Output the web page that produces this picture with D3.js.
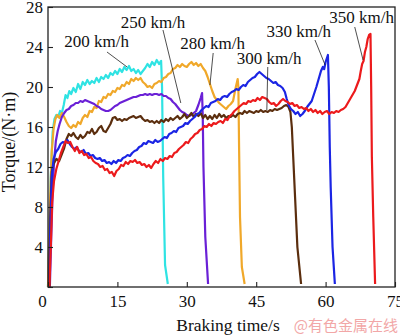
<!DOCTYPE html>
<html><head><meta charset="utf-8">
<script src="https://cdn.jsdelivr.net/npm/d3@7/dist/d3.min.js"></script>
<style>html,body{margin:0;padding:0;background:#fff;}svg{display:block;}</style>
</head><body>
<script>
// Braking torque vs. braking time for seven initial speeds; each point is [time s, torque N·m]
const speeds = ["200 km/h", "250 km/h", "280 km/h", "300 km/h", "330 km/h", "350 km/h"];
const colors = ["#2fe3e3", "#f0a82a", "#6a20d6", "#5b2e0e", "#1b25e4", "#ec1a1c"];

const s200 = [[0,0],[0.3,5],[0.6,11],[1.0,15.5],[1.4,16.8],[1.8,17.2],[2.2,17.0],[2.6,17.6],[3.0,17.4],[3.4,18.2],[3.8,19.2],[4.2,18.9],[4.6,19.6],[5.0,19.3],[5.5,19.9],[6.0,19.5],[6.5,20.3],[7.0,19.8],[7.5,20.5],[8.0,20.2],[8.5,20.7],[9.0,20.3],[9.5,20.6],[10,20.4],[10.5,20.9],[11,20.5],[11.5,21.0],[12,20.8],[12.5,21.2],[13,20.9],[13.5,21.4],[14,21.2],[14.5,21.6],[15,21.3],[15.5,21.8],[16,21.5],[16.5,22.0],[17,21.7],[17.5,22.1],[18,21.6],[18.5,21.8],[19,21.4],[19.5,21.7],[20,21.3],[20.5,21.6],[21,21.9],[21.5,22.3],[22,22.0],[22.5,22.5],[23,22.2],[23.5,22.7],[24,22.3],[24.45,22.6],[24.65,20],[24.9,11],[25.3,2.2],[25.9,0.3]];

const s250 = [[0,0],[0.4,8],[0.8,13.5],[1.2,15.8],[1.6,16.8],[2.0,17.2],[2.5,16.9],[3.0,17.4],[3.5,17.0],[4.0,16.5],[4.5,16.1],[5.0,15.9],[5.5,16.2],[6.0,16.0],[6.5,16.5],[7.0,16.3],[7.5,16.9],[8.0,17.2],[8.5,17.0],[9.0,17.6],[9.5,17.5],[10,18.0],[10.5,17.9],[11,18.6],[11.5,18.5],[12,19.0],[12.5,18.9],[13,19.3],[13.5,19.2],[14,19.6],[14.5,19.5],[15,19.9],[15.5,19.8],[16,20.2],[16.5,20.1],[17,20.5],[17.5,20.3],[18,20.8],[18.5,20.6],[19,20.9],[19.5,20.7],[20,20.9],[20.5,20.5],[21,20.3],[21.5,20.0],[22,20.1],[22.5,19.9],[23,20.3],[23.5,20.4],[24,20.6],[24.5,20.5],[25,20.9],[25.5,21.0],[26,21.3],[26.5,21.4],[27,21.8],[27.5,21.9],[28,22.2],[28.5,22.0],[29,22.3],[29.5,22.1],[30,22.0],[30.5,22.3],[31,22.5],[31.5,22.2],[32,22.4],[32.5,22.1],[33,22.3],[33.5,21.9],[34,21.6],[34.5,21.0],[35,20.3],[35.5,19.6],[36,19.0],[36.5,18.7],[37,18.4],[37.5,18.2],[38,18.0],[38.5,17.8],[39,18.1],[39.5,18.3],[40,18.6],[40.5,19.8],[41,20.8],[41.15,20],[41.3,14],[41.5,7],[41.9,2],[42.5,0.3]];

const s280 = [[0.4,0],[0.7,5],[1.0,9.5],[1.3,12.5],[1.7,14.6],[2.1,15.6],[2.5,16.3],[3,17.0],[3.5,17.4],[4,17.7],[4.5,17.8],[5,18.1],[5.5,18.2],[6,18.4],[6.5,18.4],[7,18.6],[7.5,18.5],[8,18.7],[8.5,18.6],[9,18.5],[9.5,18.4],[10,18.3],[10.5,18.1],[11,18.0],[11.5,17.8],[12,17.7],[12.5,17.6],[13,17.6],[13.5,17.7],[14,17.9],[14.5,18.1],[15,18.2],[15.5,18.4],[16,18.5],[16.5,18.6],[17,18.7],[17.5,18.8],[18,18.9],[18.5,19.0],[19,19.0],[19.5,19.1],[20,19.2],[20.5,19.2],[21,19.3],[21.5,19.2],[22,19.3],[22.5,19.2],[23,19.3],[23.5,19.3],[24,19.2],[24.5,19.3],[25,19.1],[25.5,19.1],[26,18.9],[26.5,18.8],[27,18.5],[27.5,18.3],[28,18.0],[28.5,17.7],[29,17.5],[29.5,17.4],[30,17.2],[30.5,17.1],[31,17.2],[31.5,17.4],[32,17.6],[32.5,18.2],[33,18.9],[33.3,19.4],[33.45,17],[33.6,12],[34,5],[34.6,0.3]];

const s300 = [[0.3,0],[0.5,7],[0.8,11.5],[1.2,12.3],[1.8,12.8],[2.4,12.6],[3.0,13.3],[3.5,13.9],[4.0,14.8],[4.5,15.3],[5.0,15.1],[5.5,15.4],[6.0,15.0],[6.5,14.8],[7.0,15.2],[7.5,14.9],[8.0,15.1],[8.5,15.5],[9.0,15.4],[9.5,15.8],[10,15.3],[10.5,15.5],[11,15.9],[11.5,16.1],[12,15.6],[12.5,15.5],[13,15.9],[13.5,16.3],[14,16.9],[14.5,17.0],[15,16.7],[15.5,16.8],[16,16.6],[16.5,16.8],[17,16.7],[17.5,16.9],[18,17.0],[18.5,17.1],[19,16.9],[19.5,17.0],[20,17.1],[20.5,16.8],[21,16.6],[21.5,16.7],[22,16.5],[22.5,16.6],[23,16.4],[23.5,16.6],[24,16.4],[24.5,16.7],[25,16.5],[25.5,16.8],[26,16.6],[26.5,16.9],[27,16.7],[27.5,16.9],[28,17.1],[28.5,16.8],[29,17.0],[29.5,17.3],[30,16.9],[30.5,17.1],[31,17.4],[31.5,17.0],[32,17.3],[32.5,17.1],[33,17.4],[33.5,16.9],[34,17.2],[34.5,16.8],[35,17.1],[35.5,16.8],[36,17.2],[36.5,16.9],[37,17.3],[37.5,17.0],[38,17.2],[38.5,16.9],[39,17.1],[39.5,17.0],[40,17.2],[40.5,17.0],[41,17.3],[41.5,17.4],[42,17.3],[42.5,17.6],[43,17.4],[43.5,17.6],[44,17.5],[44.5,17.4],[45,17.6],[45.5,17.5],[46,17.7],[46.5,17.5],[47,17.6],[47.5,17.5],[48,17.7],[48.5,17.6],[49,17.8],[49.5,17.7],[50,17.8],[50.5,17.9],[51,18.1],[51.5,18.2],[52,18.0],[52.4,17.5],[52.7,16],[53.0,13],[53.4,9],[53.9,4],[54.7,0.3]];

const s330 = [[0.2,0],[0.5,6],[0.8,11],[1.2,12.8],[1.7,13.5],[2.2,13.8],[2.7,14.3],[3.2,14.5],[3.7,14.4],[4.2,14.7],[4.7,14.3],[5.2,14.0],[5.7,13.8],[6.2,14.0],[6.7,13.6],[7.2,13.5],[7.7,13.7],[8.2,13.3],[8.7,13.4],[9.2,13.1],[9.7,13.2],[10.2,12.9],[10.7,12.8],[11.2,12.9],[11.7,12.6],[12.2,12.7],[12.7,12.4],[13.2,12.5],[13.7,12.3],[14.2,12.6],[14.7,12.4],[15.2,12.7],[15.7,12.6],[16.2,12.9],[16.7,13.0],[17.2,13.2],[17.7,13.1],[18.2,13.4],[18.7,13.6],[19.2,13.7],[19.7,14.0],[20.2,14.1],[20.7,14.4],[21.2,14.3],[21.7,14.6],[22.2,14.5],[22.7,14.4],[23.2,14.7],[23.7,14.5],[24.2,14.6],[24.7,14.8],[25.2,15.0],[25.7,14.9],[26.2,15.3],[26.7,15.4],[27.2,15.6],[27.7,15.5],[28.2,15.9],[28.7,16.0],[29.2,16.1],[29.7,16.4],[30.2,16.3],[30.7,16.6],[31.2,16.8],[31.7,17.0],[32.2,17.3],[32.7,17.4],[33.2,17.7],[33.7,17.9],[34.2,18.1],[34.7,18.0],[35.2,18.4],[35.7,18.5],[36.2,18.6],[36.7,18.8],[37.2,18.7],[37.7,19.0],[38.2,19.1],[38.7,19.0],[39.2,19.3],[39.7,19.5],[40.2,19.6],[40.7,19.8],[41.2,19.7],[41.7,20.0],[42.2,20.2],[42.7,20.1],[43.2,20.5],[43.7,20.7],[44.2,20.9],[44.7,21.0],[45.2,21.3],[45.7,21.5],[46.2,21.3],[46.7,21.1],[47.2,20.9],[47.7,20.8],[48.2,20.6],[48.7,20.4],[49.2,20.5],[49.7,20.2],[50.2,20.1],[50.7,19.9],[51.2,19.5],[51.6,18.8],[52.0,18.2],[52.5,17.8],[53.0,17.6],[53.5,17.3],[54.0,17.5],[54.5,17.1],[55.0,17.3],[55.5,17.6],[56.0,18.0],[56.5,18.3],[57.0,18.6],[57.5,19.3],[58.0,20.0],[58.5,20.8],[59.0,21.6],[59.4,22.0],[59.7,21.8],[60.0,22.5],[60.5,23.2],[60.7,20],[60.9,14],[61.1,10],[61.5,4],[62.0,0.3]];

const s350 = [[0.3,0],[0.6,4],[0.9,8.5],[1.3,10.6],[1.8,11.8],[2.3,12.6],[2.8,13.4],[3.3,14.0],[3.8,14.6],[4.3,14.4],[4.8,14.5],[5.3,14.0],[5.8,13.6],[6.3,14.0],[6.8,13.4],[7.3,13.6],[7.8,13.2],[8.3,13.3],[8.8,12.9],[9.3,13.0],[9.8,12.6],[10.3,12.4],[10.8,12.3],[11.3,12.0],[11.8,12.1],[12.3,11.7],[12.8,11.8],[13.3,11.4],[13.8,11.5],[14.3,11.1],[14.8,11.6],[15.3,11.8],[15.8,12.2],[16.3,12.1],[16.8,12.5],[17.3,12.3],[17.8,12.6],[18.3,12.5],[18.8,12.7],[19.3,12.4],[19.8,12.5],[20.3,12.2],[20.8,12.3],[21.3,12.0],[21.8,12.2],[22.3,11.9],[22.8,12.3],[23.3,12.6],[23.8,12.4],[24.3,12.8],[24.8,12.6],[25.3,12.9],[25.8,12.8],[26.3,13.1],[26.8,13.0],[27.3,13.4],[27.8,13.5],[28.3,13.8],[28.8,14.0],[29.3,14.2],[29.8,14.5],[30.3,14.4],[30.8,14.8],[31.3,15.0],[31.8,15.3],[32.3,15.4],[32.8,15.7],[33.3,15.8],[33.8,16.1],[34.3,16.0],[34.8,16.3],[35.3,16.1],[35.8,16.4],[36.3,16.3],[36.8,16.5],[37.3,16.6],[37.8,16.4],[38.3,16.8],[38.8,16.7],[39.3,17.1],[39.8,17.3],[40.3,17.6],[40.8,17.8],[41.3,18.0],[41.8,18.2],[42.3,18.4],[42.8,18.3],[43.3,18.6],[43.8,18.5],[44.3,18.7],[44.8,18.6],[45.3,18.9],[45.8,18.7],[46.3,19.0],[46.8,18.9],[47.3,18.8],[47.8,18.5],[48.3,18.3],[48.8,18.4],[49.3,18.1],[49.8,18.3],[50.3,18.6],[50.8,18.8],[51.3,18.6],[51.8,18.5],[52.3,18.3],[52.8,18.4],[53.3,18.1],[53.8,18.2],[54.3,17.9],[54.8,18.0],[55.3,17.8],[55.8,17.9],[56.3,17.6],[56.8,17.8],[57.3,17.5],[57.8,17.7],[58.3,17.4],[58.8,17.6],[59.3,17.3],[59.8,17.5],[60.3,17.6],[60.8,17.3],[61.3,17.5],[61.8,17.4],[62.3,17.6],[62.8,17.5],[63.3,17.7],[63.8,17.8],[64.3,18.0],[64.8,18.4],[65.3,18.8],[65.8,19.2],[66.3,19.6],[66.8,20.2],[67.3,20.8],[67.6,21.6],[67.9,22.3],[68.2,22.6],[68.5,23.5],[68.8,24.0],[69.1,24.8],[69.4,25.2],[69.7,25.3],[69.85,20],[70.0,13],[70.3,7],[70.7,0.3]];

const seriesData = [s200, s250, s280, s300, s330, s350];

// speed label: text anchor point and leader line ends, all in data units
const labelAt = [[10.5,24.0],[22.7,25.9],[35.6,23.8],[47.8,22.3],[54.2,25.0],[67.8,26.4]];
const leaderFrom = [[12.75,23.5],[24.85,25.7],[35.7,23.4],[47.5,22.0],[57.7,24.7],[66.3,26.0]];
const leaderTo = [[17.1,22.0],[28.7,18.4],[35.0,20.2],[47.3,17.7],[59.9,22.2],[68.1,22.7]];

const xTicks = [0, 15, 30, 45, 60, 75];
const yTicks = [0, 4, 8, 12, 16, 20, 24, 28];

const W = 400, H = 335;
const serif = "'Liberation Serif', 'Times New Roman', serif";

const svg = d3.select("body").append("svg").attr("width", W).attr("height", H);

const x = d3.scaleLinear().domain([0, 75]).range([48, 395]);
const y = d3.scaleLinear().domain([0, 28]).range([287, 7]);

// curves
const line = d3.line().x(d => x(d[0])).y(d => y(d[1]));
svg.append("g").selectAll("path").data(seriesData).join("path")
  .attr("d", d => line(d))
  .attr("fill", "none")
  .attr("stroke", (d, i) => colors[i])
  .attr("stroke-width", 2.2)
  .attr("stroke-linejoin", "round");

// axes with inward ticks; the shared origin carries a single "0"
const xAxis = svg.append("g").attr("transform", `translate(0,${y(0)})`)
  .call(d3.axisBottom(x).tickValues(xTicks).tickSizeInner(-5).tickSizeOuter(0).tickPadding(8));
const yAxis = svg.append("g").attr("transform", `translate(${x(0)},0)`)
  .call(d3.axisLeft(y).tickValues(yTicks).tickFormat(v => v === 0 ? "" : v)
    .tickSizeInner(-5).tickSizeOuter(0).tickPadding(5));
[xAxis, yAxis].forEach(g => {
  g.select(".domain").remove();
  g.selectAll(".tick line").attr("stroke", "#222").attr("stroke-width", 1.1);
  g.selectAll(".tick text").attr("fill", "#111").style("font-family", serif).style("font-size", "17px");
});
xAxis.selectAll(".tick text").filter(v => v === 0).attr("dx", -6);

// frame
svg.append("rect")
  .attr("x", x(0)).attr("y", y(28))
  .attr("width", x(75) - x(0)).attr("height", y(0) - y(28))
  .attr("fill", "none").attr("stroke", "#222").attr("stroke-width", 1.3);

// leaders and speed labels
const ann = svg.append("g");
ann.selectAll("line").data(speeds).join("line")
  .attr("x1", (d, i) => x(leaderFrom[i][0])).attr("y1", (d, i) => y(leaderFrom[i][1]))
  .attr("x2", (d, i) => x(leaderTo[i][0])).attr("y2", (d, i) => y(leaderTo[i][1]))
  .attr("stroke", "#222").attr("stroke-width", 0.8);
ann.selectAll("text").data(speeds).join("text")
  .attr("x", (d, i) => x(labelAt[i][0])).attr("y", (d, i) => y(labelAt[i][1]))
  .attr("text-anchor", "middle")
  .style("font-family", serif).style("font-size", "17px").attr("fill", "#111")
  .text(d => d);

// axis titles
svg.append("text").attr("x", 228).attr("y", 331).attr("text-anchor", "middle")
  .style("font-family", serif).style("font-size", "17.5px").attr("fill", "#111")
  .text("Braking time/s");
svg.append("text").attr("transform", "translate(15,142) rotate(-90)").attr("text-anchor", "middle")
  .style("font-family", serif).style("font-size", "18px").attr("fill", "#111")
  .text("Torque/(N·m)");

// source mark
svg.append("text").attr("x", 398).attr("y", 331).attr("text-anchor", "end")
  .style("font-family", "'Noto Sans CJK SC', sans-serif").style("font-size", "15px").attr("fill", "#f2a7a7")
  .text("@有色金属在线");
</script>
</body></html>
